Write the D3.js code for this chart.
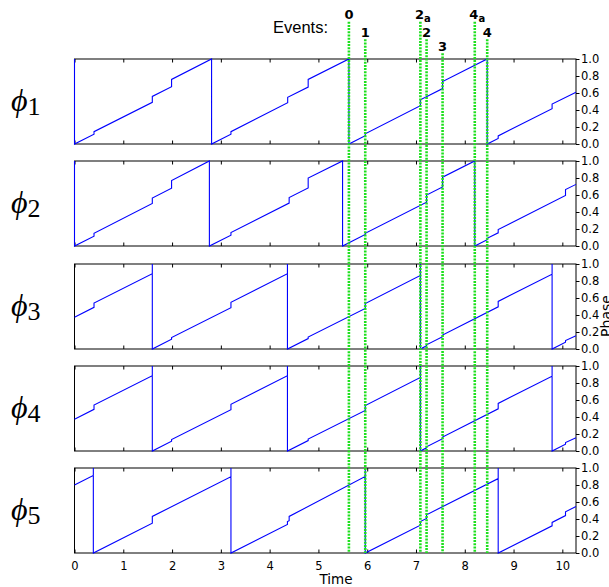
<!DOCTYPE html>
<html>
<head>
<meta charset="utf-8">
<script src="https://cdn.jsdelivr.net/npm/d3@7"></script>
<style>
  body { margin: 0; background: #fff; }
  svg { display: block; }
</style>
</head>
<body>
<script>

// phase trajectories, [time, phase]
var phi1 = [[0,1],[0,0],[0.40,0.115],[0.40,0.145],[1.595,0.49],[1.595,0.56],[1.99,0.675],[1.99,0.76],
  [2.81,1],[2.81,0],[3.207,0.115],[3.207,0.145],[4.37,0.485],[4.37,0.55],[4.79,0.67],[4.79,0.76],
  [5.625,1],[5.625,0],[5.96,0.097],[5.96,0.12],[7.09,0.45],[7.09,0.52],[7.545,0.652],[7.545,0.735],
  [8.46,1],[8.46,0],[8.685,0.065],[8.685,0.095],[9.79,0.415],[9.79,0.47],[10.28,0.61]];

var phi2 = [[0,1],[0,0],[0.40,0.115],[0.40,0.15],[1.595,0.5],[1.595,0.565],[1.99,0.68],[1.99,0.77],
  [2.765,1],[2.765,0],[3.207,0.128],[3.207,0.158],[4.40,0.505],[4.40,0.57],[4.79,0.683],[4.79,0.8],
  [5.495,1],[5.495,0],[5.96,0.135],[5.96,0.15],[7.217,0.515],[7.217,0.6],[7.545,0.695],[7.545,0.81],
  [8.205,1],[8.205,0],[8.46,0.075],[8.46,0.09],[8.685,0.155],[8.685,0.193],[10.065,0.595],[10.065,0.665],
  [10.28,0.725]];

var phi3 = [[0,0.374],[0.40,0.49],[0.40,0.54],[1.595,0.885],[1.595,1],[1.595,0],[1.99,0.115],[1.99,0.135],
  [3.207,0.485],[3.207,0.55],[4.365,0.886],[4.365,1],[4.365,0],[4.79,0.123],[4.79,0.14],[5.96,0.478],[5.96,0.535],
  [7.09,0.865],[7.09,1],[7.09,0],[7.217,0.037],[7.217,0.05],[7.545,0.145],[7.545,0.165],[8.685,0.496],[8.685,0.56],
  [9.79,0.88],[9.79,1],[9.79,0],[10.065,0.08],[10.065,0.1],[10.28,0.155]];

var phi4 = [[0,0.374],[0.40,0.49],[0.40,0.54],[1.595,0.885],[1.595,1],[1.595,0],[1.99,0.115],[1.99,0.135],
  [3.207,0.485],[3.207,0.55],[4.365,0.886],[4.365,1],[4.365,0],[4.79,0.123],[4.79,0.14],[5.96,0.478],[5.96,0.535],
  [7.09,0.865],[7.09,1],[7.09,0],[7.217,0.037],[7.217,0.05],[7.545,0.145],[7.545,0.165],[8.685,0.496],[8.685,0.56],
  [9.79,0.88],[9.79,1],[9.79,0],[10.065,0.08],[10.065,0.1],[10.28,0.155]];

var phi5 = [[0,0.8],[0.386,0.912],[0.386,1],[0.386,0],[1.595,0.35],[1.595,0.43],[3.207,0.898],[3.207,1],[3.207,0],
  [4.365,0.336],[4.365,0.37],[4.40,0.38],[4.40,0.43],[5.96,0.9],[5.96,1],[5.96,0],[7.09,0.328],[7.09,0.37],
  [7.217,0.406],[7.217,0.45],[8.685,0.876],[8.685,1],[8.685,0],[9.79,0.32],[9.79,0.36],[10.065,0.44],[10.065,0.485],
  [10.28,0.547]];

var series = [phi1, phi2, phi3, phi4, phi5];
var panelNames = ["1", "2", "3", "4", "5"];

// events: time, label, subscript, label row
var eventTimes = [5.625, 5.96, 7.09, 7.217, 7.545, 8.205, 8.46];
var eventLabels = ["0", "1", "2", "2", "3", "4", "4"];
var eventSubs = ["", "", "a", "", "", "a", ""];
var eventRows = [0, 1, 0, 1, 2, 0, 1];

var xTicks = [0, 1, 2, 3, 4, 5, 6, 7, 8, 9, 10];
var yTicks = [0, 0.2, 0.4, 0.6, 0.8, 1.0];

window.onload = function() {

  var W = 609, H = 587;
  var svg = d3.select("body").append("svg")
      .attr("width", W)
      .attr("height", H);

  var panelH = 85;
  var x = d3.scaleLinear().domain([0, 10.28]).range([74.5, 576]);

  var font = "DejaVu Sans";

  var panels = [];

  series.forEach(function(data, i) {
    var top = Math.round(59 + i * 102.3);
    var y = d3.scaleLinear().domain([0, 1]).range([top + panelH, top]);
    panels.push({top: top, y: y});

    var g = svg.append("g");

    // frame
    g.append("rect")
        .attr("x", x(0))
        .attr("y", top)
        .attr("width", x.range()[1] - x(0))
        .attr("height", panelH)
        .attr("fill", "none")
        .attr("stroke", "#000")
        .attr("stroke-width", 1);

    // x ticks inward top and bottom
    var bottom = g.append("g")
        .attr("transform", "translate(0," + (top + panelH) + ")")
        .call(d3.axisBottom(x).tickValues(xTicks).tickSizeInner(-3.5).tickSizeOuter(0)
            .tickPadding(9).tickFormat(i == 4 ? d3.format("d") : ""));
    var topAx = g.append("g")
        .attr("transform", "translate(0," + top + ")")
        .call(d3.axisTop(x).tickValues(xTicks).tickSizeInner(-3.5).tickSizeOuter(0).tickFormat(""));

    // right phase axis, ticks outward
    var right = g.append("g")
        .attr("transform", "translate(" + x.range()[1] + ",0)")
        .call(d3.axisRight(y).tickValues(yTicks).tickSizeInner(3.5).tickSizeOuter(0)
            .tickPadding(1.5).tickFormat(d3.format(".1f")));

    [bottom, topAx, right].forEach(function(a) {
      a.select(".domain").remove();
      a.selectAll("line").attr("stroke", "#000");
      a.selectAll("text")
          .attr("fill", "#000")
          .style("font-family", font)
          .style("font-size", "11.5px");
    });

    // the phase line
    var line = d3.line()
        .x(function(d) { return x(d[0]); })
        .y(function(d) { return y(d[1]); });

    g.append("path")
        .datum(data)
        .attr("d", line)
        .attr("fill", "none")
        .attr("stroke", "#0000ff")
        .attr("stroke-width", 1.1);

    // phi label
    var lab = svg.append("text")
        .attr("x", 11)
        .attr("y", top + panelH / 2 + 9)
        .style("font-family", "Liberation Serif")
        .attr("fill", "#000");
    lab.append("tspan")
        .style("font-size", "32px")
        .style("font-style", "italic")
        .text("\u03D5");
    lab.append("tspan")
        .style("font-size", "26px")
        .attr("dy", 4)
        .text(panelNames[i]);
  });

  // axis titles
  svg.append("text")
      .attr("x", 336)
      .attr("y", 584)
      .attr("text-anchor", "middle")
      .style("font-family", font)
      .style("font-size", "13.5px")
      .text("Time");

  svg.append("text")
      .attr("transform", "translate(611,316) rotate(-90)")
      .attr("text-anchor", "middle")
      .style("font-family", font)
      .style("font-size", "14px")
      .text("Phase");

  svg.append("text")
      .attr("x", 328)
      .attr("y", 32.5)
      .attr("text-anchor", "end")
      .style("font-family", "Liberation Sans")
      .style("font-size", "16.5px")
      .text("Events:");

  // event lines
  var rowTop = [21.7, 39.3, 53.3];
  var rowBase = [18.5, 36.5, 51];
  var lastBottom = panels[4].top + panelH;

  eventTimes.forEach(function(t, i) {
    svg.append("line")
        .attr("x1", x(t))
        .attr("x2", x(t))
        .attr("y1", rowTop[eventRows[i]])
        .attr("y2", lastBottom)
        .attr("stroke", "#1ee01e")
        .attr("stroke-width", 2.6)
        .attr("stroke-dasharray", "2,1.2");

    var txt = svg.append("text")
        .attr("x", x(t) + (eventSubs[i] ? 2.5 : 0))
        .attr("y", rowBase[eventRows[i]])
        .attr("text-anchor", "middle")
        .style("font-family", font)
        .style("font-weight", "bold")
        .style("font-size", "13px")
        .text(eventLabels[i]);
    if (eventSubs[i]) {
      txt.append("tspan")
          .attr("dy", 3)
          .style("font-size", "10px")
          .text(eventSubs[i]);
    }
  });
};
</script>
</body>
</html>
